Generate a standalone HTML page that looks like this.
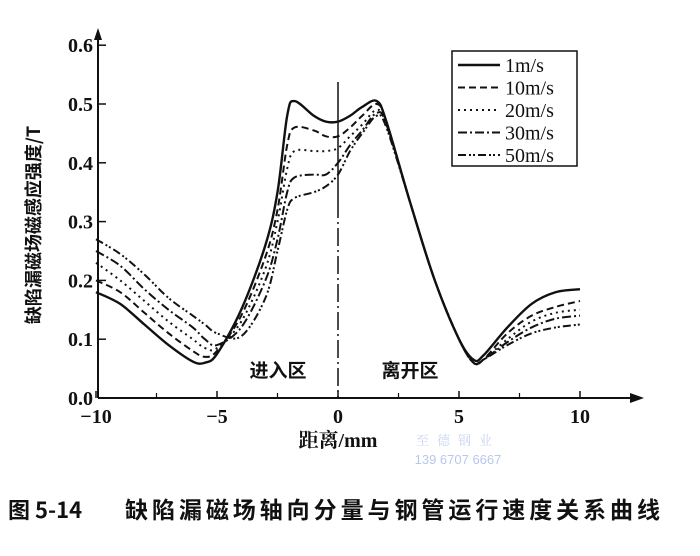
<!DOCTYPE html>
<html><head><meta charset="utf-8"><style>
body{margin:0;background:#fff;}
svg text{font-family:"Liberation Serif","Noto Serif CJK SC",serif;fill:#111;}
</style></head><body>
<svg width="700" height="551" viewBox="0 0 700 551">
<g id="axes"></g>
<g id="series"></g>
<g id="legend"></g>
<text x="40" y="225" transform="rotate(-90 40 225)" text-anchor="middle" font-size="18" font-weight="bold" style='font-family:"Noto Sans CJK SC",sans-serif'>缺陷漏磁场磁感应强度/T</text>
<text x="338" y="447" text-anchor="middle" font-size="20" font-weight="bold">距离/mm</text>
<text x="278" y="377" text-anchor="middle" font-size="19" font-weight="bold" style='font-family:"Noto Sans CJK SC",sans-serif'>进入区</text>
<text x="410" y="377" text-anchor="middle" font-size="19" font-weight="bold" style='font-family:"Noto Sans CJK SC",sans-serif'>离开区</text>
<text x="458" y="445" text-anchor="middle" font-size="13" style="fill:#c8d4ee" letter-spacing="8">至德钢业</text>
<text x="458" y="464" text-anchor="middle" font-size="13" style="fill:#b8c8ec;font-family:'Liberation Sans',sans-serif">139 6707 6667</text>
<text x="8" y="518" font-size="22" font-weight="bold" style='font-family:"Noto Sans CJK SC",sans-serif'>图 5-14</text>
<text x="125" y="518" font-size="23" font-weight="bold" textLength="535" lengthAdjust="spacing" style='font-family:"Noto Sans CJK SC",sans-serif'>缺陷漏磁场轴向分量与钢管运行速度关系曲线</text>
</svg>
<script>
const xs=[-10,-9,-8,-7,-6,-5.5,-5,-4,-3,-2.5,-2.1,-1.8,-1,-0.5,0,0.5,1,1.6,2,3,4,5,5.6,6,7,8,9,10];
const s1=[0.18,0.16,0.125,0.09,0.062,0.06,0.075,0.15,0.26,0.35,0.48,0.505,0.48,0.47,0.47,0.48,0.495,0.505,0.47,0.33,0.20,0.10,0.065,0.072,0.12,0.16,0.18,0.185];
const s10=[0.20,0.18,0.145,0.11,0.08,0.07,0.08,0.14,0.24,0.32,0.43,0.46,0.455,0.445,0.445,0.46,0.48,0.50,0.47,0.33,0.20,0.10,0.06,0.065,0.11,0.14,0.155,0.165];
const s20=[0.23,0.20,0.165,0.13,0.10,0.085,0.085,0.13,0.22,0.30,0.39,0.42,0.42,0.42,0.425,0.445,0.465,0.49,0.465,0.33,0.20,0.10,0.06,0.065,0.10,0.13,0.145,0.15];
const s30=[0.25,0.225,0.185,0.15,0.12,0.10,0.09,0.12,0.20,0.27,0.35,0.375,0.38,0.38,0.40,0.43,0.455,0.485,0.465,0.33,0.20,0.10,0.06,0.065,0.095,0.12,0.135,0.14];
const s50=[0.27,0.245,0.21,0.17,0.14,0.125,0.11,0.105,0.17,0.25,0.32,0.34,0.35,0.36,0.38,0.42,0.45,0.48,0.46,0.33,0.20,0.10,0.06,0.065,0.09,0.11,0.12,0.125];
const names=["1m/s","10m/s","20m/s","30m/s","50m/s"];
const yTicks=[0,0.1,0.2,0.3,0.4,0.5,0.6];
const yTickLabels=["0.0","0.1","0.2","0.3","0.4","0.5","0.6"];
const xTicks=[-10,-5,0,5,10];
const xTickLabels=["−10","−5","0","5","10"];
const NS="http://www.w3.org/2000/svg";
const X=v=>338+24.2*v, Y=v=>398-588*v;
function mk(t,a,p){const e=document.createElementNS(NS,t);for(const k in a)e.setAttribute(k,a[k]);p.appendChild(e);return e;}
const ax=document.getElementById('axes');
let e=mk('line',{x1:98,y1:398,x2:636,y2:398,stroke:'#111','stroke-width':2},ax);


e=mk('polygon',{points:'644,398 630,393 630,403',fill:'#111'},ax);


e=mk('line',{x1:98,y1:398,x2:98,y2:36,stroke:'#111','stroke-width':2},ax);


e=mk('polygon',{points:'98,28 94,40 102,40',fill:'#111'},ax);


yTicks.forEach((v,i)=>{
 e=mk('line',{x1:98,y1:Y(v),x2:106,y2:Y(v),stroke:'#111','stroke-width':1.5},ax);
 
 
 e=mk('text',{x:93,y:Y(v)+7,'text-anchor':'end','font-size':20,'font-weight':'bold'},ax);e.textContent=yTickLabels[i];
 
 
});
xTicks.forEach((v,i)=>{
 e=mk('line',{x1:X(v),y1:398,x2:X(v),y2:391,stroke:'#111','stroke-width':1.5},ax);
 
 
 e=mk('text',{x:X(v),y:423,'text-anchor':'middle','font-size':20,'font-weight':'bold'},ax);e.textContent=xTickLabels[i];
 
 
});
[-7.5,-2.5,2.5,7.5].forEach(v=>{
 e=mk('line',{x1:X(v),y1:398,x2:X(v),y2:393,stroke:'#111','stroke-width':1.2},ax);
 
 
});
e=mk('line',{x1:X(0),y1:82,x2:X(0),y2:200,stroke:'#111','stroke-width':1.5},ax);


e=mk('line',{x1:X(0),y1:200,x2:X(0),y2:398,stroke:'#111','stroke-width':1.5,'stroke-dasharray':'18 4 2 4'},ax);


const dashes=["","7 4","2 4","9 3 2 3","8 3 2 2 2 3"];
const data=[s1,s10,s20,s30,s50];
function path(ys){const p=xs.map((x,i)=>[X(x),Y(ys[i])]);let d=`M${p[0][0]},${p[0][1]}`;
 for(let i=0;i<p.length-1;i++){const p0=p[i-1]||p[i],p1=p[i],p2=p[i+1],p3=p[i+2]||p2;const t=6;
 d+=` C${p1[0]+(p2[0]-p0[0])/t},${p1[1]+(p2[1]-p0[1])/t} ${p2[0]-(p3[0]-p1[0])/t},${p2[1]-(p3[1]-p1[1])/t} ${p2[0]},${p2[1]}`;}return d;}
const sg=document.getElementById('series');
data.forEach((ys,k)=>{
 e=mk('path',{d:path(ys),fill:'none',stroke:'#111','stroke-width':k==0?2.4:2,'stroke-dasharray':dashes[k]},sg);
 
 
});
const lg=document.getElementById('legend');
e=mk('rect',{x:452,y:51,width:125,height:115,fill:'#fff',stroke:'#111','stroke-width':1.5},lg);


names.forEach((n,k)=>{const y=65+k*22.5;
 e=mk('line',{x1:458,y1:y,x2:500,y2:y,stroke:'#111','stroke-width':k==0?2.4:2,'stroke-dasharray':dashes[k]},lg);
 
 
 e=mk('text',{x:505,y:y+7,'font-size':20},lg);e.textContent=n;
 
 
});
</script>
</body></html>
